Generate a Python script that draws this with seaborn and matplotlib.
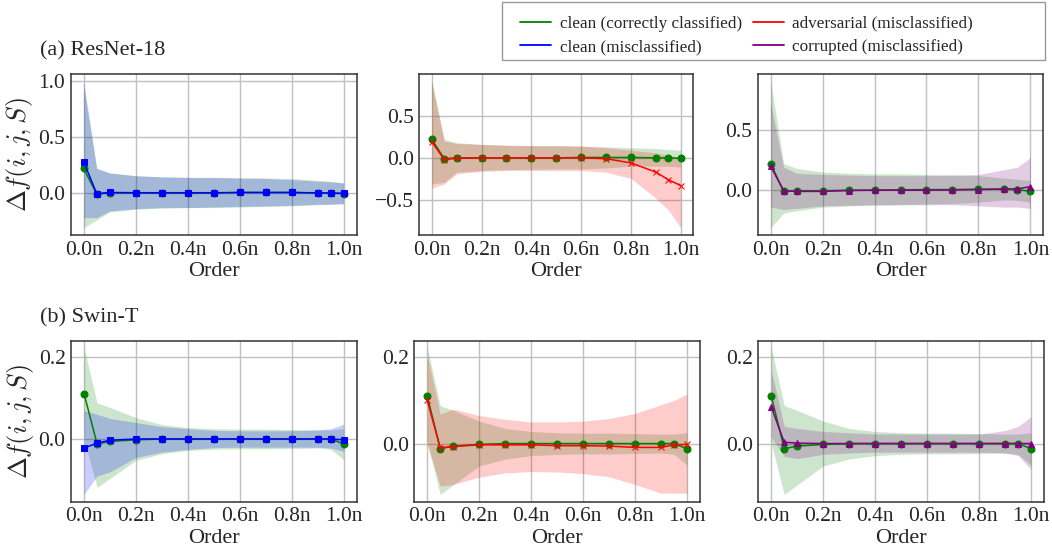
import numpy as np
import matplotlib
matplotlib.use("Agg")
import matplotlib.pyplot as plt
import seaborn as sns
from matplotlib.ticker import MultipleLocator, FuncFormatter
from matplotlib.lines import Line2D
from matplotlib.patches import Rectangle

# ---- data ----
orders = [0.0, 0.05, 0.1, 0.2, 0.3, 0.4, 0.5, 0.6, 0.7, 0.8, 0.9, 0.95, 1.0]

# (a) ResNet-18
rn_clean_mean = [0.22, -0.01, 0.0, 0.0, 0.0, 0.0, 0.0, 0.005, 0.005, 0.005, 0.0, 0.0, -0.005]
rn_clean_lo = [-0.31, -0.24, -0.17, -0.145, -0.135, -0.13, -0.13, -0.125, -0.12, -0.115, -0.105, -0.1, -0.095]
rn_clean_hi = [0.95, 0.22, 0.18, 0.155, 0.145, 0.14, 0.14, 0.135, 0.135, 0.13, 0.115, 0.105, 0.09]
rn_cmis_mean = [0.28, -0.005, 0.005, 0.003, 0.003, 0.003, 0.003, 0.005, 0.005, 0.005, 0.002, 0.0, -0.003]
rn_cmis_lo = [-0.22, -0.22, -0.16, -0.14, -0.13, -0.13, -0.125, -0.12, -0.115, -0.11, -0.1, -0.1, -0.095]
rn_cmis_hi = [1.0, 0.22, 0.18, 0.155, 0.145, 0.14, 0.14, 0.135, 0.13, 0.12, 0.105, 0.1, 0.09]
rn_adv_mean = [0.19, -0.02, -0.005, 0.0, 0.0, 0.0, 0.0, 0.0, -0.01, -0.06, -0.17, -0.26, -0.33]
rn_adv_lo = [-0.36, -0.31, -0.19, -0.16, -0.15, -0.15, -0.15, -0.15, -0.17, -0.245, -0.48, -0.62, -0.83]
rn_adv_hi = [0.9, 0.2, 0.17, 0.16, 0.15, 0.145, 0.145, 0.14, 0.12, 0.09, 0.06, 0.03, 0.0]
rn_clean2_lo = [-0.31, -0.29, -0.17, -0.15, -0.14, -0.135, -0.13, -0.13, -0.12, -0.1, -0.1, -0.1, -0.11]
rn_clean2_hi = [0.91, 0.22, 0.18, 0.16, 0.15, 0.145, 0.145, 0.14, 0.13, 0.12, 0.11, 0.1, 0.09]
rn_clean3_mean = [0.22, -0.01, -0.005, -0.005, 0.0, 0.0, 0.003, 0.005, 0.005, 0.008, 0.008, 0.005, -0.01]
rn_clean3_lo = [-0.31, -0.19, -0.17, -0.14, -0.13, -0.125, -0.12, -0.115, -0.11, -0.1, -0.08, -0.085, -0.1]
rn_clean3_hi = [0.9, 0.22, 0.18, 0.15, 0.14, 0.135, 0.135, 0.13, 0.125, 0.12, 0.1, 0.09, 0.08]
rn_corr_mean = [0.2, -0.005, -0.01, -0.01, -0.003, 0.0, 0.0, 0.0, 0.003, 0.005, 0.01, 0.01, 0.03]
rn_corr_lo = [-0.14, -0.16, -0.15, -0.13, -0.125, -0.12, -0.12, -0.12, -0.12, -0.13, -0.14, -0.14, -0.15]
rn_corr_hi = [0.72, 0.19, 0.14, 0.13, 0.125, 0.12, 0.12, 0.12, 0.125, 0.13, 0.17, 0.19, 0.27]

# (b) Swin-T
sw_clean_mean = [0.11, -0.012, -0.006, -0.002, 0.0, 0.0, 0.0, 0.0, 0.0, 0.0, 0.0, 0.0, -0.012]
sw_clean_lo = [0.0, -0.118, -0.096, -0.052, -0.036, -0.028, -0.025, -0.024, -0.024, -0.023, -0.022, -0.025, -0.05]
sw_clean_hi = [0.222, 0.088, 0.077, 0.052, 0.035, 0.028, 0.025, 0.024, 0.024, 0.023, 0.022, 0.022, 0.025]
sw_cmis_mean = [-0.022, -0.01, -0.003, 0.0, 0.0, 0.0, 0.0, 0.0, 0.0, 0.0, 0.0, 0.0, -0.002]
sw_cmis_lo = [-0.135, -0.09, -0.08, -0.045, -0.032, -0.025, -0.021, -0.02, -0.02, -0.02, -0.02, -0.022, -0.03]
sw_cmis_hi = [0.069, 0.06, 0.05, 0.04, 0.03, 0.025, 0.021, 0.02, 0.02, 0.02, 0.022, 0.025, 0.036]
sw_adv_mean = [0.1, -0.01, -0.007, -0.003, -0.003, -0.003, -0.005, -0.005, -0.006, -0.009, -0.009, -0.003, -0.002]
sw_adv_lo = [0.0, -0.099, -0.095, -0.078, -0.068, -0.065, -0.066, -0.07, -0.077, -0.095, -0.115, -0.115, -0.115]
sw_adv_hi = [0.205, 0.068, 0.08, 0.065, 0.056, 0.05, 0.05, 0.052, 0.058, 0.07, 0.09, 0.1, 0.115]
sw_corr_mean = [0.085, 0.003, 0.001, 0.0, 0.0, 0.0, 0.0, 0.0, 0.0, 0.0, 0.0, 0.0, 0.0]
sw_corr_lo = [0.015, -0.03, -0.035, -0.025, -0.022, -0.02, -0.02, -0.02, -0.02, -0.02, -0.022, -0.028, -0.06]
sw_corr_hi = [0.17, 0.04, 0.035, 0.028, 0.025, 0.022, 0.022, 0.022, 0.022, 0.022, 0.03, 0.04, 0.062]

# colour, marker, marker size, legend label
series_styles = {
    "clean_ok": ("green", "o", 5.0, "clean (correctly classified)"),
    "clean_mis": ("blue", "s", 4.3, "clean (misclassified)"),
    "adv": ("red", "x", 5.0, "adversarial (misclassified)"),
    "corr": ("purple", "^", 5.0, "corrupted (misclassified)"),
}

panels = [
    [("clean_ok", rn_clean_mean, rn_clean_lo, rn_clean_hi), ("clean_mis", rn_cmis_mean, rn_cmis_lo, rn_cmis_hi)],
    [("clean_ok", rn_clean_mean, rn_clean2_lo, rn_clean2_hi), ("adv", rn_adv_mean, rn_adv_lo, rn_adv_hi)],
    [("clean_ok", rn_clean3_mean, rn_clean3_lo, rn_clean3_hi), ("corr", rn_corr_mean, rn_corr_lo, rn_corr_hi)],
    [("clean_ok", sw_clean_mean, sw_clean_lo, sw_clean_hi), ("clean_mis", sw_cmis_mean, sw_cmis_lo, sw_cmis_hi)],
    [("clean_ok", sw_clean_mean, sw_clean_lo, sw_clean_hi), ("adv", sw_adv_mean, sw_adv_lo, sw_adv_hi)],
    [("clean_ok", sw_clean_mean, sw_clean_lo, sw_clean_hi), ("corr", sw_corr_mean, sw_corr_lo, sw_corr_hi)],
]

sns.set_style("white")
plt.rcParams["font.family"] = ["Liberation Serif", "DejaVu Serif"]
plt.rcParams["mathtext.fontset"] = "cm"
plt.rcParams["axes.edgecolor"] = "#333333"

fig = plt.figure(figsize=(10.52, 5.5), dpi=100)

# axes boxes [left, bottom, width, height] in figure fraction
boxes = [
    [0.0672, 0.5727, 0.2718, 0.2928],
    [0.3986, 0.5727, 0.2604, 0.2928],
    [0.7202, 0.5727, 0.2716, 0.2928],
    [0.0676, 0.0878, 0.2714, 0.2930],
    [0.3938, 0.0878, 0.2716, 0.2930],
    [0.7208, 0.0878, 0.2716, 0.2930],
]

for k, (box, series) in enumerate(zip(boxes, panels)):
    ax = fig.add_axes(box)
    for key, mean, lo, hi in series:
        color = series_styles[key][0]
        ax.fill_between(orders, lo, hi, color=color, alpha=0.2, linewidth=0)
    for key, mean, lo, hi in series:
        color, marker, ms, _ = series_styles[key]
        sns.lineplot(x=orders, y=mean, color=color, marker=marker, markersize=ms,
                     markeredgecolor=color, linewidth=1.1, ax=ax)
    ax.set_xticks([0, 0.2, 0.4, 0.6, 0.8, 1.0])
    ax.xaxis.set_major_formatter(FuncFormatter(lambda v, p: f"{v:.1f}n"))
    ax.yaxis.set_major_locator(MultipleLocator(0.5 if k < 3 else 0.2))
    ax.grid(True, color="#c0c0c0", linewidth=1.0)
    ax.tick_params(labelsize=15.5, length=0, pad=4)
    ax.set_xlabel("Order", fontsize=16, labelpad=2)
    if k % 3 == 0:
        ax.set_ylabel(r"$\Delta f(i,j,S)$", fontsize=19, labelpad=2)
    for s in ax.spines.values():
        s.set_linewidth(1.1)

fig.text(40 / 1052, 1 - 55 / 550, "(a) ResNet-18", fontsize=16, ha="left", va="baseline")
fig.text(40 / 1052, 1 - 322 / 550, "(b) Swin-T", fontsize=16, ha="left", va="baseline")

keys = ["clean_ok", "clean_mis", "adv", "corr"]
handles = [Line2D([0], [0], color=series_styles[k][0], lw=1.3) for k in keys]
labels = [series_styles[k][3] for k in keys]
fig.legend(handles, labels, ncol=2, fontsize=12.3, loc="upper left",
           bbox_to_anchor=(505 / 1052, 1 - 0.5 / 550), frameon=False,
           columnspacing=0.65, handlelength=1.8, handletextpad=0.5, labelspacing=0.42)
# legend frame drawn as a plain rectangle (the reference box is wider than its contents)
fig.patches.append(Rectangle((502 / 1052, 1 - 60 / 550), 543 / 1052, 58 / 550,
                             transform=fig.transFigure, fill=False,
                             edgecolor="#999999", linewidth=1.0))

fig.savefig("out.png", dpi=100)
